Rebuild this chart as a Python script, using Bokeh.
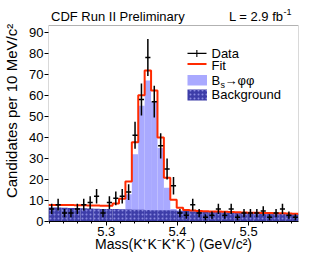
import numpy as np
from bokeh.plotting import figure
from bokeh.models import Range1d, Label, BoxAnnotation, FixedTicker
from bokeh.embed import file_html
from bokeh.resources import INLINE

# ---- histogram definition (GeV/c^2) ----
mass_lo = 5.219
bin_width = 0.009

counts = [6, 8, 4, 4, 6, 8, 9, 12, 4, 9,
          11, 12, 14, 41, 58, 78, 57, 36, 25, 17,
          4, 3, 8, 4, 2, 3, 6, 3, 6, 2,
          4, 4, 4, 5, 2, 4, 6, 3, 2]

fit = [7.9, 7.9, 7.8, 7.8, 7.7, 7.7, 7.6, 7.6, 7.5, 7.5,
       8.6, 10.8, 19.0, 37.7, 60.0, 71.8, 62.3, 40.0, 20.8, 10.3,
       6.5, 5.5, 5.2, 5.0, 4.9, 4.8, 4.7, 4.6, 4.5, 4.4,
       4.3, 4.2, 4.2, 4.1, 4.0, 3.9, 3.9, 3.8, 3.7]

signal = [0, 0, 0, 0, 0, 0, 0, 0, 0, 0,
          1.5, 4, 13, 32, 55, 67, 57, 35, 16, 6,
          1.5, 0.5, 0, 0, 0, 0, 0, 0, 0, 0,
          0, 0, 0, 0, 0, 0, 0, 0, 0]

background = [6.7, 6.6, 6.5, 6.4, 6.4, 6.3, 6.2, 6.1, 6.0, 6.0,
              5.9, 5.8, 5.7, 5.6, 5.6, 5.5, 5.4, 5.3, 5.3, 5.2,
              5.1, 5.0, 4.9, 4.8, 4.7, 4.6, 4.5, 4.4, 4.3, 4.2,
              4.1, 4.0, 3.9, 3.9, 3.8, 3.7, 3.6, 3.5, 3.4]

x_ticks = [5.3, 5.4, 5.5]
x_minor_ticks = [5.22, 5.24, 5.26, 5.28, 5.30, 5.32, 5.34, 5.36, 5.38, 5.40,
                 5.42, 5.44, 5.46, 5.48, 5.50, 5.52, 5.54, 5.56]
y_ticks = [0, 10, 20, 30, 40, 50, 60, 70, 80, 90]

x_range = (5.219, 5.570)
y_visible = (0, 93.2)

# layout (pixels): the bokeh frame also holds the header strip above the box
BOX_LEFT, BOX_TOP, BOX_W, BOX_H = 48, 25, 250, 196
FRAME_H = BOX_TOP + BOX_H
px_per_unit = BOX_H / (y_visible[1] - y_visible[0])
y_end = y_visible[1] + BOX_TOP / px_per_unit

n = len(counts)
edges = mass_lo + bin_width * np.arange(n + 1)
left = edges[:-1]
right = edges[1:]
centers = 0.5 * (left + right)
cnt = np.array(counts, dtype=float)
err = np.sqrt(cnt)

FONT = "Liberation Sans"
DARK = "#3d3da8"
LIGHT = "#a9a9ff"
RED = "#ff2a00"

p = figure(frame_width=BOX_W, frame_height=FRAME_H,
           output_backend="svg", toolbar_location=None,
           x_range=Range1d(*x_range), y_range=Range1d(y_visible[0], y_end),
           min_border_left=BOX_LEFT, min_border_right=28, min_border_top=0,
           min_border_bottom=33)
p.grid.visible = False
p.outline_line_color = None

# signal (drawn from zero), then background over it
p.quad(left=left, right=right, bottom=0, top=signal,
       fill_color=LIGHT, line_color=None)
p.quad(left=left, right=right, bottom=0, top=background,
       fill_color=DARK, line_color=None,
       hatch_pattern="dot", hatch_color="#8a8ae0", hatch_scale=4, hatch_weight=1)

# fit
p.step(x=edges, y=fit + [fit[-1]], mode="after", line_color=RED, line_width=2)

# data points
p.segment(x0=centers, x1=centers, y0=cnt - err, y1=cnt + err,
          line_color="black", line_width=1.5)
p.segment(x0=centers - 0.4 * bin_width, x1=centers + 0.4 * bin_width,
          y0=cnt, y1=cnt, line_color="black", line_width=1.5)

# visible frame box
p.add_layout(BoxAnnotation(left=x_range[0], right=x_range[1],
                           bottom=y_visible[0], top=y_visible[1],
                           fill_alpha=0, line_color="black", line_width=1))

# axes
p.xaxis.ticker = FixedTicker(ticks=x_ticks, minor_ticks=x_minor_ticks)
p.yaxis.ticker = FixedTicker(ticks=y_ticks, minor_ticks=[])
for ax in (p.xaxis[0], p.yaxis[0]):
    ax.major_tick_out = 4
    ax.major_tick_in = 0
    ax.minor_tick_out = 2
    ax.minor_tick_in = 0
    ax.axis_line_color = "black"
    ax.major_tick_line_color = "black"
    ax.minor_tick_line_color = "black"
    ax.major_label_text_font = FONT
    ax.major_label_text_font_size = "13px"
    ax.major_label_text_color = "black"
    ax.axis_label_text_font = FONT
    ax.axis_label_text_font_style = "normal"
    ax.axis_label_text_color = "black"
    ax.major_label_standoff = 1
p.yaxis.axis_line_color = None

p.xaxis.axis_label = "Mass(K\u207aK\u207bK\u207aK\u207b) (GeV/c\u00b2)"
p.xaxis.axis_label_text_font_size = "14px"
p.xaxis.axis_label_standoff = -3
p.yaxis.axis_label = "Candidates per 10 MeV/c\u00b2"
p.yaxis.axis_label_text_font_size = "15px"
p.yaxis.axis_label_standoff = 6


# ---- layout helpers: reference-pixel positions -> data coordinates ----
def dx(px):
    return x_range[0] + (px - BOX_LEFT) / BOX_W * (x_range[1] - x_range[0])


def dy(py):
    return y_visible[1] - (py - BOX_TOP) / px_per_unit


def text(x, y, s, size="13px", align="left"):
    p.add_layout(Label(x=dx(x), y=dy(y), text=s, text_font=FONT,
                       text_font_size=size, text_color="black",
                       text_align=align, text_baseline="middle"))


def box(x0, x1, y0, y1, color, **kw):
    p.add_layout(BoxAnnotation(left=dx(x0), right=dx(x1), top=dy(y0), bottom=dy(y1),
                               fill_color=color, fill_alpha=1, line_alpha=0, **kw))


# header
text(50.5, 15.5, "CDF Run II Preliminary")
text(283, 15.5, "L = 2.9 fb", align="right")
text(283, 11.5, "-1", size="9px")

# legend
box(187, 206, 52.2, 53.4, "black")
box(195.8, 196.9, 49.5, 56.5, "black")
text(211, 53, "Data")
box(187, 206, 62.5, 64.5, RED)
text(211, 65, "Fit")
box(187, 206.5, 74.5, 85, LIGHT)
text(211, 80, "B")
text(220, 84, "s", size="9px")
text(224, 80, "\u2192\u03c6\u03c6")
box(187, 206.5, 89, 100, DARK, hatch_pattern="dot", hatch_color="#8a8ae0",
    hatch_scale=4, hatch_weight=1)
text(211, 94, "Background")

open("out.html", "w").write(file_html(p, INLINE))
